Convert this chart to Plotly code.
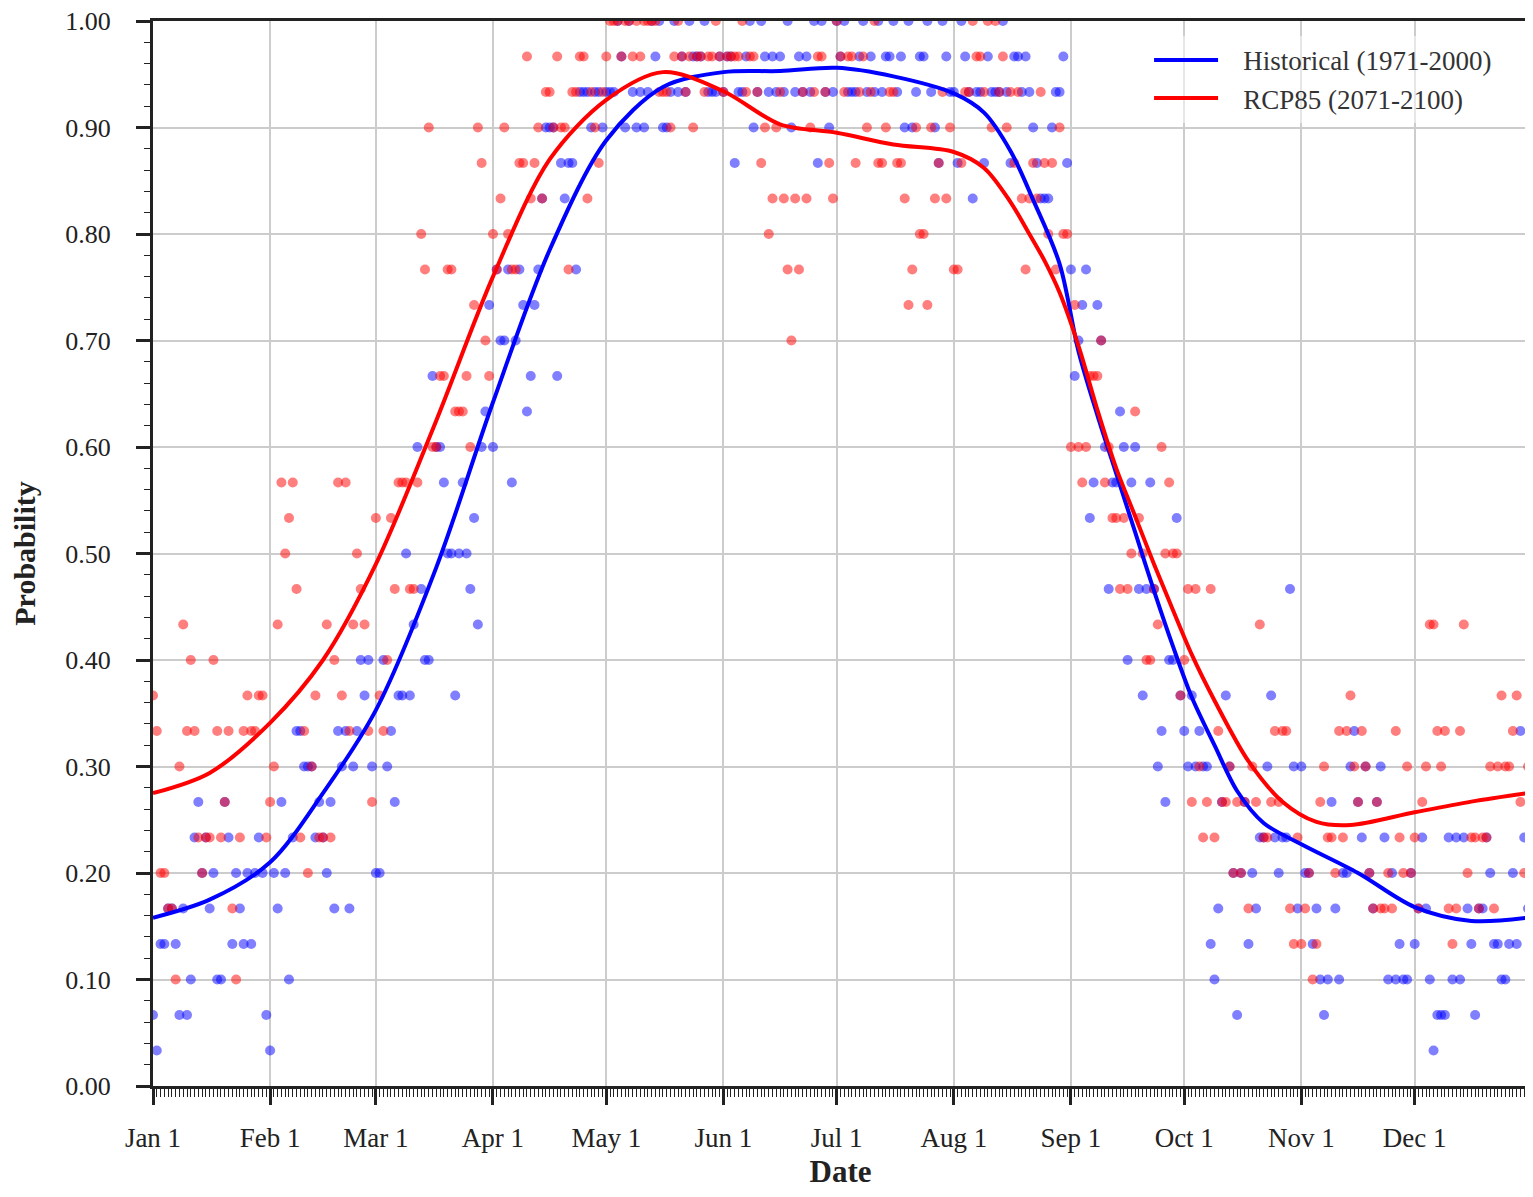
import datetime as dt
import plotly.graph_objects as go

# ---------------- data ----------------
N_TRIALS = 30  # probabilities are counts out of 30 years

hist_counts = [
    2, 1, 4, 4, 5, 5, 4, 2, 5, 2,
    3, 7, 8, 6, 7, 5, 6, 3, 3, 8,
    7, 4, 6, 5, 4, 6, 4, 6, 7, 6,
    2, 1, 6, 5, 8, 6, 3, 7, 10, 10,
    9, 9, 9, 7, 8, 7, 6, 8, 5, 10,
    9, 10, 5, 9, 10, 12, 11, 12, 9, 6,
    6, 12, 9, 10, 8, 11, 11, 15, 11, 13,
    18, 14, 12, 12, 20, 18, 18, 17, 15, 15,
    11, 15, 17, 15, 14, 16, 13, 18, 19, 22,
    18, 23, 21, 21, 23, 17, 21, 23, 22, 19,
    20, 22, 23, 25, 27, 27, 27, 20, 26, 25,
    26, 26, 23, 28, 28, 28, 27, 28, 28, 27,
    28, 28, 28, 30, 29, 27, 30, 28, 27, 28,
    27, 28, 30, 29, 30, 27, 27, 28, 30, 28,
    29, 28, 30, 29, 29, 29, 30, 28, 28, 28,
    29, 28, 29, 29, 26, 28, 28, 29, 30, 27,
    28, 30, 29, 28, 29, 28, 29, 28, 30, 27,
    28, 29, 28, 29, 28, 30, 26, 30, 28, 27,
    28, 30, 29, 30, 28, 28, 28, 29, 30, 28,
    29, 28, 30, 28, 29, 29, 30, 28, 29, 27,
    30, 27, 28, 29, 29, 30, 28, 27, 26, 30,
    29, 28, 28, 26, 30, 29, 28, 25, 28, 28,
    26, 29, 28, 28, 28, 30, 28, 26, 29, 29,
    28, 29, 28, 27, 26, 25, 25, 25, 27, 28,
    28, 29, 26, 23, 20, 21, 22, 23, 16, 17,
    22, 21, 18, 14, 17, 17, 19, 18, 12, 17,
    18, 14, 11, 14, 17, 14, 9, 10, 8, 12,
    12, 16, 11, 10, 9, 11, 9, 10, 9, 9,
    4, 3, 5, 8, 11, 9, 6, 2, 6, 8,
    4, 6, 5, 7, 7, 9, 11, 7, 6, 7,
    7, 14, 9, 5, 9, 6, 6, 4, 5, 3,
    2, 3, 8, 5, 3, 6, 6, 9, 10, 8,
    7, 9, 6, 5, 8, 9, 7, 3, 6, 3,
    4, 3, 3, 6, 4, 5, 7, 5, 3, 1,
    2, 2, 2, 7, 3, 7, 3, 7, 5, 4,
    2, 5, 5, 7, 6, 4, 4, 3, 3, 4,
    6, 4, 10, 7, 5,
]

rcp_counts = [
    11, 10, 6, 6, 5, 5, 3, 9, 13, 10,
    12, 10, 7, 6, 7, 7, 12, 10, 7, 8,
    10, 5, 3, 7, 10, 11, 10, 10, 11, 11,
    7, 8, 9, 13, 17, 15, 16, 17, 14, 7,
    10, 6, 9, 11, 7, 7, 13, 7, 12, 17,
    11, 17, 10, 13, 15, 14, 13, 10, 8, 16,
    11, 10, 12, 16, 14, 17, 17, 17, 14, 14,
    17, 24, 23, 27, 18, 18, 20, 20, 23, 23,
    19, 19, 19, 20, 18, 22, 27, 26, 21, 20,
    24, 23, 25, 27, 24, 23, 23, 26, 26, 29,
    25, 26, 27, 25, 28, 28, 27, 29, 27, 27,
    23, 28, 28, 29, 29, 25, 28, 27, 26, 28,
    29, 30, 30, 30, 29, 30, 30, 29, 30, 29,
    30, 30, 30, 30, 28, 28, 28, 27, 29, 30,
    29, 28, 29, 27, 29, 29, 28, 29, 29, 30,
    29, 28, 29, 29, 29, 29, 30, 28, 29, 29,
    28, 26, 27, 24, 25, 27, 28, 25, 23, 21,
    25, 23, 28, 25, 27, 28, 29, 29, 28, 26,
    25, 30, 29, 28, 29, 29, 26, 28, 29, 27,
    28, 30, 26, 26, 27, 28, 28, 26, 26, 25,
    22, 23, 27, 24, 24, 22, 27, 25, 26, 28,
    25, 27, 23, 23, 26, 28, 28, 30, 29, 29,
    28, 30, 27, 30, 28, 29, 27, 28, 26, 28,
    25, 23, 25, 26, 25, 28, 26, 24, 26, 23,
    27, 24, 24, 18, 22, 18, 17, 18, 20, 20,
    20, 21, 17, 18, 16, 16, 14, 16, 14, 15,
    19, 16, 15, 12, 12, 14, 13, 18, 15, 17,
    15, 15, 11, 12, 14, 8, 14, 9, 7, 8,
    14, 7, 10, 8, 8, 9, 6, 8, 6, 8,
    5, 9, 8, 13, 7, 7, 8, 10, 8, 10,
    10, 5, 4, 7, 4, 5, 6, 3, 4, 8,
    9, 7, 7, 6, 10, 7, 10, 11, 9, 8,
    10, 9, 6, 5, 8, 5, 5, 6, 5, 10,
    7, 6, 9, 6, 7, 5, 8, 9, 13, 13,
    10, 9, 10, 5, 4, 5, 10, 13, 6, 7,
    7, 5, 7, 7, 9, 5, 9, 11, 9, 9,
    10, 11, 8, 6, 9,
]

# smoothed curves, sampled at day-of-year positions
hist_curve_days = [0, 15, 31, 45, 59, 75, 90, 105, 120, 135, 151, 166, 181, 196, 212,
                   220, 227, 233, 240, 245, 250, 255, 260, 265, 270, 275, 281, 287,
                   294, 304, 319, 334, 349, 364]
hist_curve = [0.158, 0.175, 0.21, 0.275, 0.353, 0.487, 0.642, 0.785, 0.888, 0.938,
              0.952, 0.953, 0.956, 0.948, 0.932, 0.914, 0.878, 0.832, 0.772, 0.69,
              0.63, 0.575, 0.52, 0.465, 0.413, 0.365, 0.32, 0.277,
              0.247, 0.227, 0.20, 0.168, 0.155, 0.158]

rcp_curve_days = [0, 15, 31, 45, 59, 75, 90, 105, 120, 135, 151, 166, 181, 196, 212,
                  220, 227, 232, 236, 240, 245, 250, 255, 260, 265, 270, 275, 281,
                  290, 299, 308, 317, 334, 349, 364]
rcp_curve = [0.275, 0.294, 0.341, 0.40, 0.49, 0.625, 0.76, 0.87, 0.926, 0.952,
             0.934, 0.903, 0.895, 0.884, 0.877, 0.862, 0.83, 0.80, 0.775, 0.745,
             0.695, 0.635, 0.58, 0.535, 0.49, 0.447, 0.405, 0.362,
             0.305, 0.267, 0.248, 0.245, 0.257, 0.267, 0.275]

month_labels = ["Jan 1", "Feb 1", "Mar 1", "Apr 1", "May 1", "Jun 1",
                "Jul 1", "Aug 1", "Sep 1", "Oct 1", "Nov 1", "Dec 1"]

# ---------------- build ----------------
start = dt.date(2001, 1, 1)
days = [start + dt.timedelta(days=i) for i in range(len(hist_counts))]
hist_p = [c / N_TRIALS for c in hist_counts]
rcp_p = [c / N_TRIALS for c in rcp_counts]
hist_cx = [start + dt.timedelta(days=d) for d in hist_curve_days]
rcp_cx = [start + dt.timedelta(days=d) for d in rcp_curve_days]
month_ticks = [dt.date(2001, m, 1) for m in range(1, 13)]

FONT = "Liberation Serif"
AXC = "#222222"
TXT = "#222222"
GAP = "\u00a0\u00a0\u00a0"

fig = go.Figure()
fig.add_trace(go.Scatter(x=days, y=hist_p, mode="markers", showlegend=False,
                         marker=dict(size=10, color="rgba(0,0,255,0.5)", line=dict(width=0))))
fig.add_trace(go.Scatter(x=days, y=rcp_p, mode="markers", showlegend=False,
                         marker=dict(size=10, color="rgba(255,0,0,0.5)", line=dict(width=0))))
fig.add_trace(go.Scatter(x=hist_cx, y=hist_curve, mode="lines", name=GAP + "Historical (1971-2000)",
                         line=dict(color="#0000ff", width=4, shape="spline", smoothing=0.9)))
fig.add_trace(go.Scatter(x=rcp_cx, y=rcp_curve, mode="lines", name=GAP + "RCP85 (2071-2100)",
                         line=dict(color="#ff0000", width=4, shape="spline", smoothing=0.9)))

# the page body adds an 8px offset; size the figure so the plot lands where the reference has it
fig.update_layout(
    width=1525, height=1181,
    margin=dict(l=145, r=5, t=13, b=103),
    paper_bgcolor="white", plot_bgcolor="white",
    font=dict(family=FONT, size=25, color=TXT),
    legend=dict(x=0.9775, y=0.986, xanchor="right", yanchor="top",
                bgcolor="rgba(255,255,255,0.5)", borderwidth=0,
                font=dict(family=FONT, size=27, color="#333333"),
                itemwidth=64, tracegroupgap=0),
)
fig.update_xaxes(
    range=[start, dt.date(2001, 12, 31)],
    tickmode="array", tickvals=month_ticks, ticktext=month_labels,
    ticks="outside", ticklen=16, tickwidth=2.5, tickcolor=AXC,
    ticklabelstandoff=10, ticklabeloverflow="allow",
    showgrid=True, gridcolor="#cccccc", gridwidth=2,
    showline=True, linecolor=AXC, linewidth=3, mirror=True,
    zeroline=False, automargin=False,
    minor=dict(ticks="outside", ticklen=8, tickwidth=1, tickcolor=AXC,
               dtick=86400000, showgrid=False),
    title=dict(text="<b>Date</b>", font=dict(family=FONT, size=31, color=TXT), standoff=24),
    tickfont=dict(family=FONT, size=27, color=TXT),
)
fig.update_yaxes(
    range=[0, 1], dtick=0.1, tick0=0, tickformat=".2f",
    ticks="outside", ticklen=14, tickwidth=2.5, tickcolor=AXC,
    ticklabelstandoff=20, ticklabeloverflow="allow",
    showgrid=True, gridcolor="#cccccc", gridwidth=2,
    showline=True, linecolor=AXC, linewidth=3, mirror=True,
    zeroline=False, automargin=False,
    minor=dict(ticks="outside", ticklen=6, tickwidth=1, tickcolor=AXC,
               dtick=0.02, showgrid=False),
    title=dict(text="<b>Probability</b>", font=dict(family=FONT, size=30, color=TXT), standoff=24),
    tickfont=dict(family=FONT, size=26, color=TXT),
)

fig.write_html("out.html")
